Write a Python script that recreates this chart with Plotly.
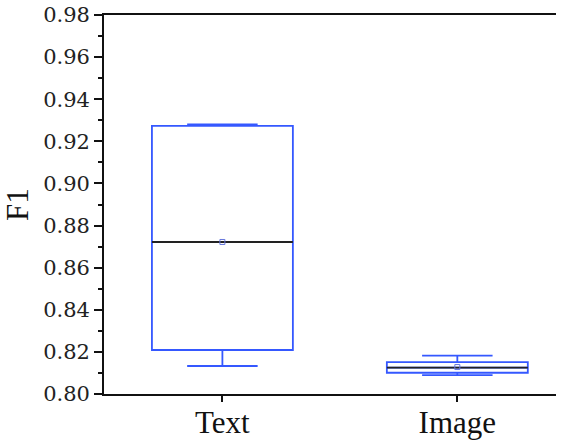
import plotly.graph_objects as go

categories = ["Text", "Image"]
positions = [0, 1]
q1 = [0.8209, 0.8101]
median = [0.8722, 0.8125]
q3 = [0.9273, 0.8151]
lower = [0.8133, 0.8090]
upper = [0.9280, 0.8182]
mean = [0.8722, 0.8128]
y_ticks = [0.80, 0.82, 0.84, 0.86, 0.88, 0.90, 0.92, 0.94, 0.96, 0.98]
y_tick_labels = ["0.80", "0.82", "0.84", "0.86", "0.88", "0.90", "0.92", "0.94", "0.96", "0.98"]

BLUE = "#3558ff"
BOX_W = 0.6
FONT = "Liberation Serif"
YFONT = "DejaVu Serif"

fig = go.Figure()
for i, c in enumerate(categories):
    fig.add_trace(go.Box(
        x=[positions[i]], q1=[q1[i]], median=[median[i]], q3=[q3[i]],
        lowerfence=[lower[i]], upperfence=[upper[i]],
        width=BOX_W, whiskerwidth=0.5,
        line=dict(color=BLUE, width=1.8), fillcolor="rgba(0,0,0,0)",
        boxpoints=False, showlegend=False, name=c,
    ))
    fig.add_trace(go.Scatter(
        x=[positions[i] - BOX_W / 2, positions[i] + BOX_W / 2],
        y=[median[i], median[i]], mode="lines",
        line=dict(color="#222222", width=1.8), showlegend=False, hoverinfo="skip",
    ))
    fig.add_trace(go.Scatter(
        x=[positions[i]], y=[mean[i]], mode="markers",
        marker=dict(symbol="square-open", size=5, color="#6677dd", line=dict(width=1)),
        showlegend=False,
    ))

fig.update_layout(
    width=567, height=440,
    margin=dict(l=104, r=11, t=15, b=46, autoexpand=False),
    plot_bgcolor="white", paper_bgcolor="white",
    font=dict(family=FONT, color="#111111"),
    xaxis=dict(
        range=[-0.504, 1.42], tickvals=positions, ticktext=categories,
        showline=True, linecolor="#111111", linewidth=1.8, mirror=True,
        ticks="outside", ticklen=6, tickwidth=1.5, tickcolor="#111111",
        showgrid=False, zeroline=False, automargin=False,
        ticklabelstandoff=-6,
        tickfont=dict(family=FONT, size=31, color="#111111"),
    ),
    yaxis=dict(
        range=[0.80, 0.98], tickvals=y_ticks, ticktext=y_tick_labels,
        showline=True, linecolor="#111111", linewidth=1.8,
        ticks="outside", ticklen=8, tickwidth=1.5, tickcolor="#111111",
        minor=dict(ticks="outside", ticklen=4, dtick=0.01, tickcolor="#111111", tickwidth=1.5),
        showgrid=False, zeroline=False, automargin=False,
        tickfont=dict(family=YFONT, size=21, color="#222222"),
        title=dict(text="F1", font=dict(family=FONT, size=31, color="#111111"), standoff=8),
    ),
)

fig.write_html("out.html")
